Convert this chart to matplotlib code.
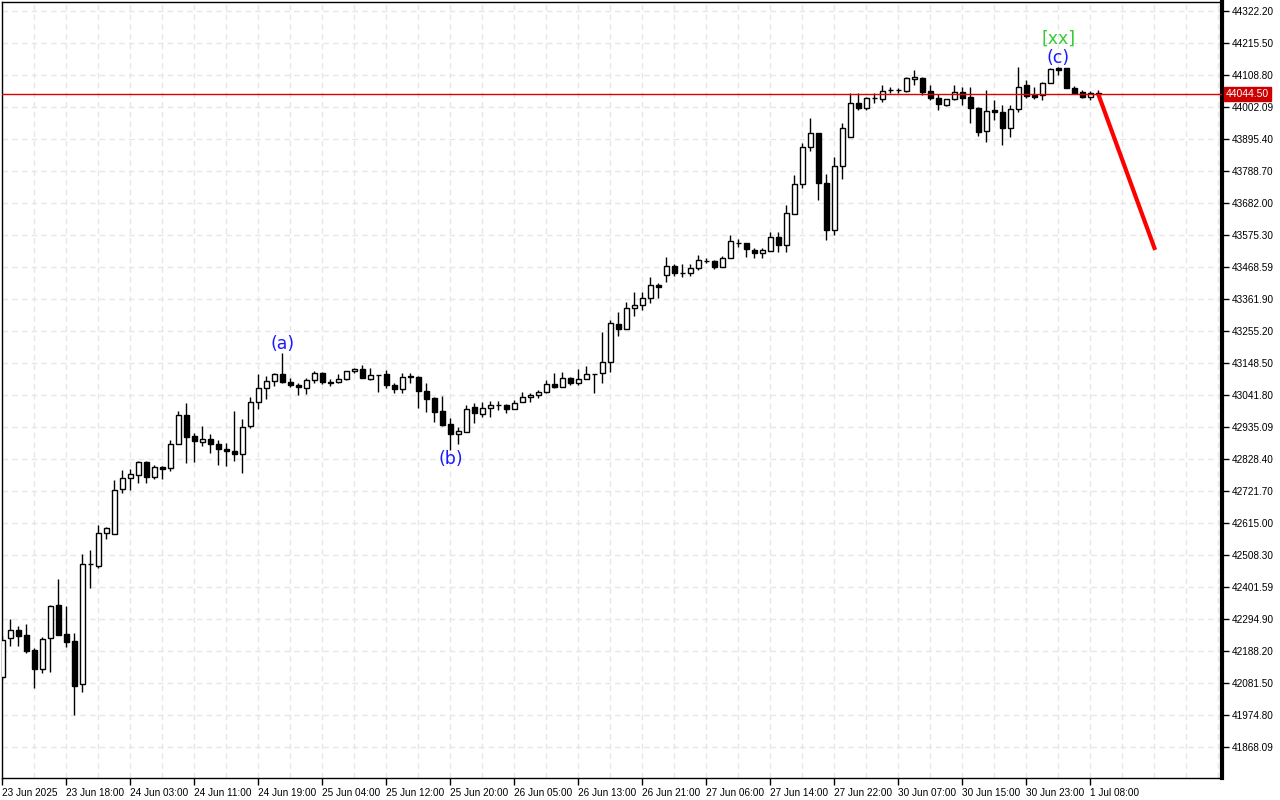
import matplotlib
matplotlib.use("Agg")
import matplotlib.pyplot as plt
import matplotlib.transforms as mtransforms

# hourly candles, oldest first
opens = [42102, 42232, 42259, 42242, 42192, 42129, 42232, 42342, 42245, 42222,
         42079, 42479, 42472, 42582, 42579, 42729, 42765, 42775, 42819, 42769,
         42802, 42799, 42879, 42975, 42905, 42885, 42895, 42879, 42862, 42855,
         42845, 42939, 43019, 43065, 43089, 43112, 43085, 43075, 43065, 43092,
         43115, 43085, 43085, 43095, 43122, 43129, 43095, 43109, 43112, 43075,
         43062, 43105, 43102, 43055, 43032, 42989, 42945, 42912, 42919, 43002,
         42979, 42999, 43009, 43009, 42995, 43019, 43035, 43042, 43052, 43079,
         43069, 43099, 43082, 43095, 43112, 43115, 43152, 43279, 43262, 43332,
         43342, 43365, 43409, 43442, 43472, 43449, 43449, 43465, 43489, 43489,
         43469, 43499, 43549, 43549, 43525, 43515, 43522, 43569, 43542, 43645,
         43745, 43869, 43915, 43749, 43592, 43805, 43902, 44015, 43999, 44032,
         44029, 44059, 44058, 44055, 44095, 44099, 44055, 44032, 44009, 44029,
         44052, 44035, 43999, 43922, 43992, 43986, 43932, 43996, 44076, 44042,
         44042, 44082, 44132, 44132, 44066, 44052, 44036, 44049]
highs = [42239, 42295, 42272, 42279, 42199, 42235, 42342, 42429, 42339, 42249,
         42512, 42525, 42609, 42602, 42759, 42792, 42795, 42822, 42822, 42809,
         42805, 42892, 42989, 43015, 42915, 42939, 42912, 42892, 42882, 42989,
         42962, 43035, 43112, 43105, 43115, 43182, 43099, 43082, 43099, 43122,
         43119, 43095, 43112, 43122, 43132, 43142, 43132, 43110, 43125, 43082,
         43115, 43115, 43104, 43082, 43034, 43039, 42965, 42935, 43009, 43015,
         43019, 43022, 43022, 43012, 43025, 43052, 43049, 43059, 43092, 43115,
         43119, 43102, 43129, 43139, 43113, 43252, 43292, 43319, 43352, 43385,
         43385, 43435, 43415, 43502, 43479, 43479, 43479, 43509, 43499, 43492,
         43505, 43575, 43562, 43550, 43532, 43532, 43585, 43585, 43675, 43775,
         43882, 43965, 43916, 43779, 43835, 43949, 44049, 44049, 44035, 44049,
         44075, 44069, 44066, 44102, 44125, 44102, 44075, 44045, 44029, 44075,
         44069, 44069, 44002, 44059, 44026, 44009, 44009, 44136, 44092, 44069,
         44086, 44132, 44136, 44133, 44072, 44059, 44056, 44059]
lows = [42092, 42205, 42205, 42182, 42065, 42115, 42119, 42242, 42202, 41975,
        42052, 42399, 42465, 42562, 42579, 42715, 42725, 42749, 42749, 42762,
        42762, 42789, 42879, 42815, 42819, 42872, 42849, 42809, 42805, 42822,
        42782, 42932, 42995, 43029, 43072, 43082, 43069, 43042, 43045, 43082,
        43079, 43072, 43082, 43092, 43115, 43099, 43092, 43052, 43065, 43049,
        43049, 43082, 42999, 42985, 42952, 42939, 42859, 42879, 42919, 42949,
        42969, 42969, 42992, 42982, 42995, 43019, 43019, 43032, 43049, 43065,
        43069, 43075, 43075, 43095, 43049, 43082, 43119, 43239, 43262, 43305,
        43325, 43349, 43365, 43419, 43439, 43435, 43439, 43459, 43482, 43462,
        43469, 43499, 43535, 43502, 43499, 43499, 43522, 43519, 43519, 43645,
        43732, 43855, 43692, 43559, 43575, 43762, 43902, 43992, 43992, 44015,
        44019, 44049, 44049, 44052, 44075, 44042, 44025, 43992, 44005, 44025,
        44009, 43949, 43906, 43886, 43959, 43876, 43902, 43986, 44032, 44029,
        44026, 44082, 44109, 44066, 44049, 44032, 44026, 44042]
closes = [42225, 42259, 42239, 42189, 42129, 42229, 42339, 42242, 42219, 42072,
          42479, 42477, 42582, 42599, 42725, 42765, 42779, 42819, 42769, 42802,
          42795, 42879, 42975, 42902, 42889, 42895, 42879, 42862, 42855, 42845,
          42935, 43019, 43065, 43089, 43112, 43085, 43075, 43069, 43092, 43115,
          43085, 43083, 43095, 43122, 43129, 43099, 43109, 43108, 43075, 43062,
          43102, 43102, 43055, 43029, 42985, 42942, 42912, 42922, 42995, 42982,
          42999, 43009, 43008, 42995, 43015, 43035, 43042, 43052, 43079, 43069,
          43099, 43082, 43095, 43112, 43111, 43152, 43282, 43262, 43332, 43342,
          43365, 43409, 43402, 43472, 43449, 43448, 43465, 43492, 43488, 43469,
          43499, 43555, 43548, 43529, 43515, 43525, 43569, 43542, 43649, 43745,
          43869, 43915, 43749, 43592, 43805, 43932, 44015, 43999, 44032, 44031,
          44055, 44058, 44059, 44099, 44102, 44052, 44032, 44012, 44029, 44052,
          44032, 43999, 43919, 43989, 43986, 43932, 43996, 44069, 44039, 44036,
          44082, 44129, 44126, 44066, 44049, 44036, 44049, 44044.5]

time_labels = ["23 Jun 2025", "23 Jun 18:00", "24 Jun 03:00", "24 Jun 11:00",
               "24 Jun 19:00", "25 Jun 04:00", "25 Jun 12:00", "25 Jun 20:00",
               "26 Jun 05:00", "26 Jun 13:00", "26 Jun 21:00", "27 Jun 06:00",
               "27 Jun 14:00", "27 Jun 22:00", "30 Jun 07:00", "30 Jun 15:00",
               "30 Jun 23:00", "1 Jul 08:00"]
price_labels = ["41868.09", "41974.80", "42081.50", "42188.20", "42294.90",
                "42401.59", "42508.30", "42615.00", "42721.70", "42828.40",
                "42935.09", "43041.80", "43148.50", "43255.20", "43361.90",
                "43468.59", "43575.30", "43682.00", "43788.70", "43895.40",
                "44002.09", "44108.80", "44215.50", "44322.20"]

last_price = 44044.50
forecast_x = [137, 144.1]
forecast_y = [44044.5, 43525.5]

# wave labels: text, candle index, price, colour
wave_marks = [("(a)", 35, 43212, "#1a1aff"),
              ("(b)", 56, 42829, "#1a1aff"),
              ("(c)", 132, 44166, "#1a1aff"),
              ("[xx]", 132, 44229, "#33cc33")]

tick_font = "Liberation Sans"

fig = plt.figure(figsize=(12.8, 8), dpi=100)
ax = fig.add_axes([2 / 1280, 22 / 800, 1220 / 1280, 776 / 800])

n = len(opens)
idx = list(range(n))

# wicks
ax.vlines(idx, lows, highs, color="black", lw=1, zorder=3)

# bodies
bottoms = [min(o, c) for o, c in zip(opens, closes)]
heights = [max(abs(c - o), 0.5) for o, c in zip(opens, closes)]
colors = ["white" if c > o else "black" for o, c in zip(opens, closes)]
ax.bar(idx, heights, bottom=bottoms, width=0.6, color=colors,
       edgecolor="black", linewidth=1, zorder=4)

# current price line and forecast
ax.axhline(last_price, color="#e00000", lw=1, zorder=5)
ax.plot(forecast_x, forecast_y, color="#ff0000", lw=3, zorder=6,
        solid_capstyle="butt")

for txt, i, p, col in wave_marks:
    ax.text(i, p, txt, color=col, fontsize=12.5, ha="center", va="center",
            zorder=7)

ax.set_xlim(-0.04, 152.46)
ax.set_ylim(41764.7, 44352.2)

# axes and ticks
ax.yaxis.tick_right()
ax.set_yticks([float(s) for s in price_labels])
ax.set_yticklabels(price_labels)
ax.set_xticks(list(range(0, 8 * len(time_labels), 8)))
ax.set_xticklabels(time_labels, ha="left")
ax.set_xticks(list(range(0, 153, 4)), minor=True)
ax.tick_params(axis="both", direction="out", length=5, width=1,
               labelsize=7.2, pad=2, colors="black")
ax.tick_params(axis="x", which="minor", length=0)
for lab in ax.get_yticklabels() + ax.get_xticklabels():
    lab.set_family(tick_font)

ax.grid(True, which="both", axis="x", color="#e6e6e6", lw=1,
        linestyle=(0, (4, 3)), zorder=0)
ax.grid(True, which="major", axis="y", color="#e6e6e6", lw=1,
        linestyle=(0, (4, 3)), zorder=0)
ax.set_axisbelow(True)

for side in ["left", "top", "bottom"]:
    ax.spines[side].set_linewidth(1)
ax.spines["right"].set_linewidth(3)

# price tag on the right axis
trans = mtransforms.blended_transform_factory(ax.transAxes, ax.transData)
ax.text(1.003, last_price, "44044.50", transform=trans, color="white",
        fontsize=7.5, family=tick_font, va="center", ha="left", zorder=10,
        clip_on=False,
        bbox=dict(boxstyle="square,pad=0.2", facecolor="#cc0000",
                  edgecolor="#cc0000"))

fig.savefig("out.png", dpi=100, facecolor="white")
